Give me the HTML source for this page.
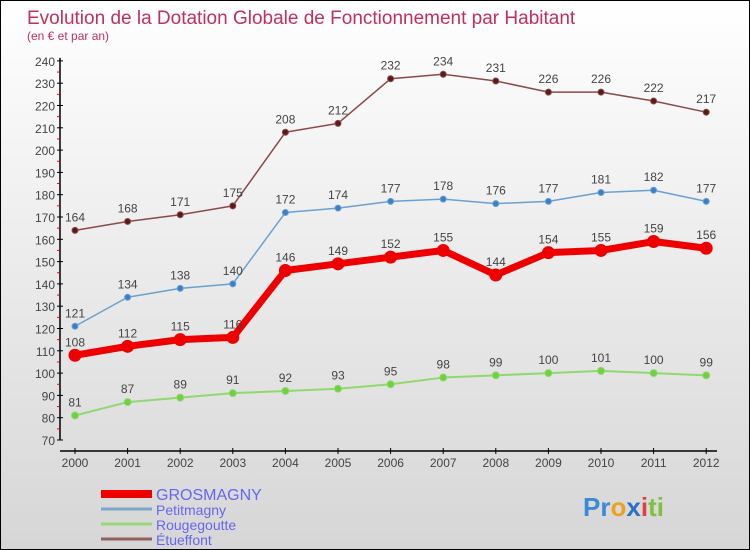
<!DOCTYPE html>
<html><head><meta charset="utf-8"><style>
body{margin:0}
#c{width:748px;height:548px;border:1px solid #000;background:linear-gradient(#fff,#d6d6d6);position:relative;overflow:hidden;font-family:"Liberation Sans",sans-serif}
</style></head><body>
<div id="c">
<svg id="s" width="748" height="548" style="position:absolute;left:0;top:0">
<text x="26" y="23" font-size="19" fill="#c0305a">Evolution de la Dotation Globale de Fonctionnement par Habitant</text>
<text x="26" y="39" font-size="12" fill="#c0305a">(en € et par an)</text>
<g id="g"></g>
</svg>
</div>
<script>
const years=[2000,2001,2002,2003,2004,2005,2006,2007,2008,2009,2010,2011,2012];
const grosmagny=[108,112,115,116,146,149,152,155,144,154,155,159,156];
const petitmagny=[121,134,138,140,172,174,177,178,176,177,181,182,177];
const rougegoutte=[81,87,89,91,92,93,95,98,99,100,101,100,99];
const etueffont=[164,168,171,175,208,212,232,234,231,226,226,222,217];
const yTicks=[70,80,90,100,110,120,130,140,150,160,170,180,190,200,210,220,230,240];
const NS="http://www.w3.org/2000/svg";
const g=document.getElementById('g');
const X=i=>74+i*52.6, Y=v=>439-(v-70)*2.23;
function el(t,a,p){const e=document.createElementNS(NS,t);for(const k in a)e.setAttribute(k,a[k]);(p||g).appendChild(e);return e;}
let ax=el('line',{x1:59,y1:Y(240)-3,x2:59,y2:Y(70),stroke:'#000','stroke-width':1.5});


yTicks.forEach((v,k)=>{
 el('line',{x1:56,x2:62,y1:Y(v),y2:Y(v),stroke:'#000'});
 if(k<yTicks.length-1) el('line',{x1:56,x2:59,y1:Y(v+5),y2:Y(v+5),stroke:'#e00'});
 const t=el('text',{x:54,y:Y(v)+5,'text-anchor':'end','font-size':12,fill:'#444'});t.textContent=v;
 
 
});
let xa=el('line',{x1:59,x2:716,y1:450,y2:450,stroke:'#000','stroke-width':1.5});


years.forEach((y,i)=>{
 el('line',{x1:X(i),x2:X(i),y1:447,y2:453,stroke:'#000'});
 const t=el('text',{x:X(i),y:466,'text-anchor':'middle','font-size':12,fill:'#444'});t.textContent=y;
 
 
});
function series(d,col,dot,w,r,name){
 const p=el('polyline',{points:d.map((v,i)=>X(i)+','+Y(v)).join(' '),fill:'none',stroke:col,'stroke-width':w,'stroke-linejoin':'round'});
 
 
 d.forEach((v,i)=>{
  const c=el('circle',{cx:X(i),cy:Y(v),r:r,fill:dot,stroke:col,'stroke-width':1});
  
  
  const t=el('text',{x:X(i),y:Y(v)-9,'text-anchor':'middle','font-size':12,fill:'#444'});t.textContent=v;
  
  
 });
}
series(rougegoutte,'#90d870','#70d040',2,3.5,'rougegoutte');
series(etueffont,'#8a4a4a','#5a1a1a',1.5,3,'etueffont');
series(petitmagny,'#6aa0d0','#3a80c8',1.5,3,'petitmagny');
series(grosmagny,'#ee0000','#ee0000',7,6,'grosmagny');
const leg=[['GROSMAGNY','#ee0000',8,16],['Petitmagny','#7aa8c8',3,14],['Rougegoutte','#98d878',3,14],['Étueffont','#906060',3,14]];
leg.forEach((l,i)=>{
 const y=[493,508,523,538][i];
 const gg=el('g',{});
 
 
 el('line',{x1:100,x2:151,y1:y,y2:y,stroke:l[1],'stroke-width':l[2]},gg);
 const t=el('text',{x:155,y:y+6,'font-size':l[3],fill:'#6666ee'},gg);t.textContent=l[0];
});
const lg=el('text',{x:582,y:515,'font-size':26,'font-weight':'bold',fill:'#3a8ad8'});


lg.innerHTML='Pr<tspan fill="#f0a020">o</tspan><tspan fill="#2a70c8">x</tspan><tspan fill="#e04040">i</tspan><tspan fill="#80c040">ti</tspan>';
</script>
</body></html>
